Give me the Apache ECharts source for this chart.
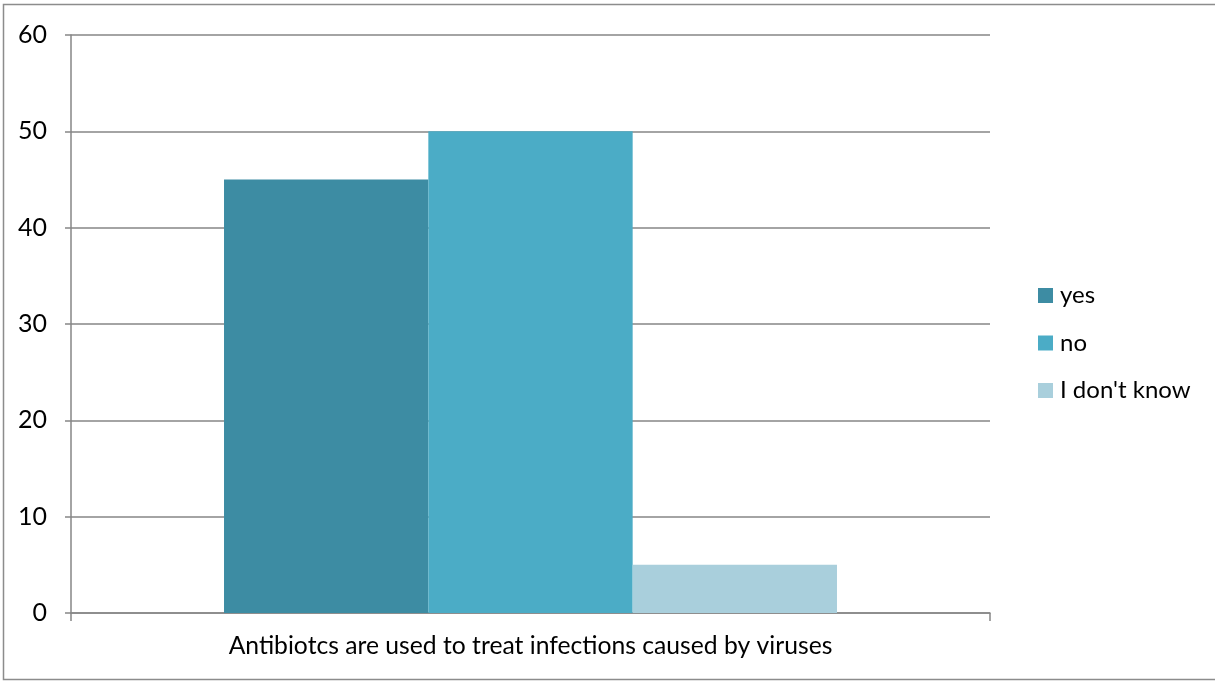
<!DOCTYPE html>
<html>
<head>
<meta charset="utf-8">
<script src="https://cdn.jsdelivr.net/npm/echarts@6/dist/echarts.min.js"></script>
<style>
  html, body { margin: 0; padding: 0; background: #fff; overflow: hidden; }
  #chart { width: 1215px; height: 682px; }
</style>
</head>
<body>
<div id="chart"></div>
<script>
// Survey question and answer counts
const categories = ['Antibiotcs are used to treat infections caused by viruses'];
const seriesNames = ['yes', 'no', "I don't know"];
const yesValues = [45];
const noValues = [50];
const dontKnowValues = [5];
const seriesColors = ['#3D8CA3', '#4BACC6', '#A9CFDC'];
const yTicks = [0, 10, 20, 30, 40, 50, 60];

const FONT = 'Lato, "Open Sans", sans-serif';
const FONT_SIZE = 25;
const AXIS_GRAY = '#868686';
const chart = echarts.init(document.getElementById('chart'), null, { renderer: 'canvas' });

const valueLists = [yesValues, noValues, dontKnowValues];

chart.setOption({
  animation: false,
  textStyle: { fontFamily: FONT },
  graphic: [{
    type: 'rect',
    shape: { x: 3.5, y: 4.5, width: 1240, height: 675 },
    style: { fill: 'none', stroke: '#8c8c8c', lineWidth: 1.5 },
    silent: true,
    z: -1
  }],
  grid: { left: 71, right: 225, top: 35, bottom: 69, containLabel: false },
  legend: {
    orient: 'vertical',
    left: 1033,
    top: 278,
    itemWidth: 15,
    itemHeight: 15,
    itemGap: 22.5,
    icon: 'rect',
    textStyle: { fontSize: 24, lineHeight: 25, color: '#000', fontFamily: FONT, padding: [0, 0, 0, 2] },
    data: seriesNames
  },
  xAxis: {
    type: 'category',
    data: categories,
    axisLine: { lineStyle: { color: AXIS_GRAY, width: 1.5 } },
    axisTick: { show: true, alignWithLabel: false, length: 8, lineStyle: { color: AXIS_GRAY, width: 1.5 } },
    axisLabel: { fontSize: 24.7, color: '#000', margin: 21, fontFamily: FONT }
  },
  yAxis: {
    type: 'value',
    min: yTicks[0],
    max: yTicks[yTicks.length - 1],
    interval: 10,
    axisLine: { show: true, lineStyle: { color: AXIS_GRAY, width: 1.5 } },
    axisTick: { show: true, length: 6, lineStyle: { color: AXIS_GRAY, width: 1.5 } },
    axisLabel: { fontSize: FONT_SIZE, color: '#000', margin: 24, fontFamily: FONT },
    splitLine: { lineStyle: { color: AXIS_GRAY, width: 1.5 } }
  },
  series: seriesNames.map((name, i) => ({
    name,
    type: 'bar',
    data: valueLists[i],
    itemStyle: { color: seriesColors[i] },
    barGap: '0%',
    barCategoryGap: '33.3%'
  }))
});
</script>
</body>
</html>
